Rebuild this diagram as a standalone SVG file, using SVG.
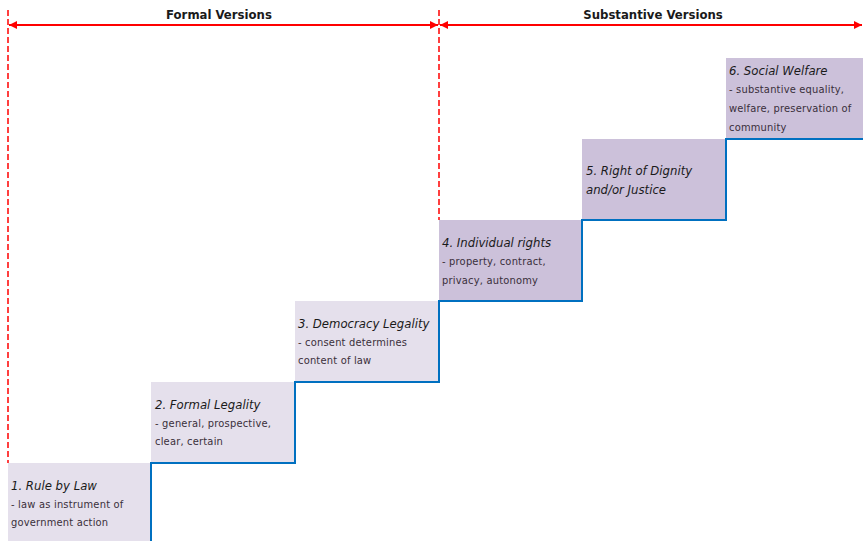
<svg xmlns="http://www.w3.org/2000/svg" width="863" height="541" viewBox="0 0 863 541">
<style>
.light{fill:#E5E0EC;}
.dark{fill:#CCC1DA;}
.t{font-family:"DejaVu Sans Condensed","DejaVu Sans",sans-serif;font-size:13px;font-style:italic;fill:#1a1a1a;}
.d{font-family:"DejaVu Sans Condensed","DejaVu Sans",sans-serif;font-size:11px;letter-spacing:0.2px;fill:#3a2f3a;}
.h{font-family:"DejaVu Sans Condensed","DejaVu Sans",sans-serif;font-size:13px;font-weight:bold;fill:#1a1a1a;}
.red{stroke:#FF0000;stroke-width:2;fill:none;}
.dash{stroke:#FF0000;stroke-width:1.5;fill:none;stroke-dasharray:6 3;}
</style>
<defs>
<marker id="ah" viewBox="0 0 10 10" refX="10" refY="5" markerWidth="4" markerHeight="4" orient="auto-start-reverse" markerUnits="strokeWidth">
<path d="M0,0 L10,5 L0,10 z" fill="#FF0000"/>
</marker>
</defs>
<rect width="863" height="541" fill="#FFFFFF"/>
<g id="node1"><rect class="light" x="8" y="463" width="143" height="78"/>
<text class="t" x="11" y="490">1. Rule by Law</text>
<text class="d" x="11" y="508">- law as instrument of</text>
<text class="d" x="11" y="526">government action</text></g>
<g id="node2"><rect class="light" x="151" y="382" width="144" height="81"/>
<text class="t" x="155" y="409">2. Formal Legality</text>
<text class="d" x="155" y="427">- general, prospective,</text>
<text class="d" x="155" y="445">clear, certain</text></g>
<g id="node3"><rect class="light" x="295" y="301" width="144" height="81"/>
<text class="t" x="298" y="328">3. Democracy Legality</text>
<text class="d" x="298" y="346">- consent determines</text>
<text class="d" x="298" y="364">content of law</text></g>
<g id="node4"><rect class="dark" x="439" y="220" width="143" height="81"/>
<text class="t" x="442" y="247">4. Individual rights</text>
<text class="d" x="442" y="265">- property, contract,</text>
<text class="d" x="442" y="284">privacy, autonomy</text></g>
<g id="node5"><rect class="dark" x="582" y="139" width="144" height="81"/>
<text class="t" x="586" y="175">5. Right of Dignity</text>
<text class="t" x="586" y="194">and/or Justice</text></g>
<g id="node6"><rect class="dark" x="726" y="58" width="137" height="81"/>
<text class="t" x="729" y="75">6. Social Welfare</text>
<text class="d" x="729" y="93">- substantive equality,</text>
<text class="d" x="729" y="112">welfare, preservation of</text>
<text class="d" x="729" y="131">community</text></g>
<g id="connectors">
<path d="M151,541 V463 H295 V382 H439 V301 H582 V220 H726 V139 H863" fill="none" stroke="#0070C0" stroke-width="2"/>
<line class="dash" x1="8" y1="10" x2="8" y2="463"/>
<line class="dash" x1="439" y1="10" x2="439" y2="220"/>
<line class="red" x1="9" y1="25" x2="438" y2="25" marker-start="url(#ah)" marker-end="url(#ah)"/>
<line class="red" x1="440" y1="25" x2="862" y2="25" marker-start="url(#ah)" marker-end="url(#ah)"/>
</g>
<text class="h" x="219" y="19" text-anchor="middle">Formal Versions</text>
<text class="h" x="653" y="19" text-anchor="middle">Substantive Versions</text>
</svg>
